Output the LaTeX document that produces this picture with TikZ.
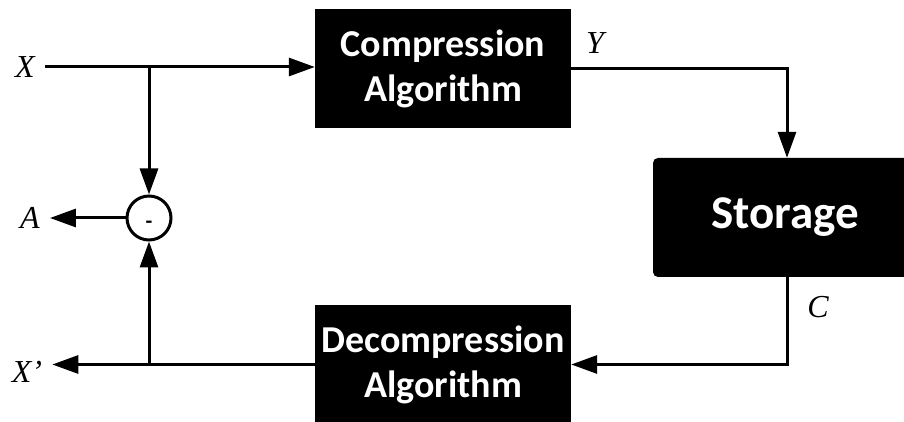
\documentclass[tikz,border=0pt]{standalone}
\usepackage{fontspec}
\setmainfont{Liberation Serif}
\newfontfamily\blockfont{Carlito}
\usetikzlibrary{arrows.meta}
\usetikzlibrary{calc}

\begin{document}
\begin{tikzpicture}[>={Triangle[length=26bp,width=18bp]},line join=miter,
    block/.style={fill=black,draw=none,text=white,align=center,inner sep=0pt,
        font=\blockfont\bfseries\fontsize{38bp}{45bp}\selectfont,
        minimum width=256bp,minimum height=119bp},
    sig/.style={font=\itshape\fontsize{32bp}{38bp}\selectfont,inner xsep=10bp,inner ysep=0pt},
    wire/.style={line width=3bp}]
    \useasboundingbox (0bp,0bp) rectangle (904bp,422bp);
    %%
    % Node: Compression
    \node[block] (comp) at (443bp,353.5bp) {Compression\\Algorithm};
    % Node: Storage
    \node[block,rounded corners=5bp,minimum width=264bp,
        font=\blockfont\bfseries\fontsize{47bp}{52bp}\selectfont] (store) at (785bp,204.5bp) {Storage};
    % Node: Decompression
    \node[block] (decomp) at (443bp,57.5bp) {Decompression\\Algorithm};
    % Node: difference
    \node[draw,circle,line width=3bp,minimum size=44bp,inner sep=0pt,
        font=\blockfont\bfseries\fontsize{22bp}{22bp}\selectfont] (diff) at (149bp,204bp) {\smash{\raisebox{-0.5em}{-}}};
    % Node: signal labels
    \node[sig] (xin) at (25bp,355bp) {X};
    \node[sig] (xout) at (27bp,50bp) {X'};
    \node[sig] (aout) at (30bp,204bp) {A};
    \node[sig] (ylab) at (595bp,379bp) {Y};
    \node[sig] (clab) at (818bp,115bp) {C};
    \coordinate (ydrop) at (787bp,353.5bp);
    %
    % Edge: X -> Compression
    \draw[wire,->] (xin.east) -- (xin.east -| comp.west);
    % Edge: X -> difference
    \draw[wire,->] (xin.east -| diff) -- (diff.north);
    % Edge: Compression -> Storage
    \draw[wire,->] (comp.east) -- (ydrop) -- (ydrop |- store.north);
    % Edge: Storage -> Decompression
    \draw[wire,->] (ydrop |- store.south) |- (decomp.east);
    % Edge: Decompression -> X'
    \draw[wire,->] (decomp.west) -- (decomp.west -| xout.east);
    % Edge: X' -> difference
    \draw[wire,->] (decomp.west -| diff) -- (diff.south);
    % Edge: difference -> A
    \draw[wire,->] (diff.west) -- (diff.west -| aout.east);
    %
\end{tikzpicture}
\end{document}
